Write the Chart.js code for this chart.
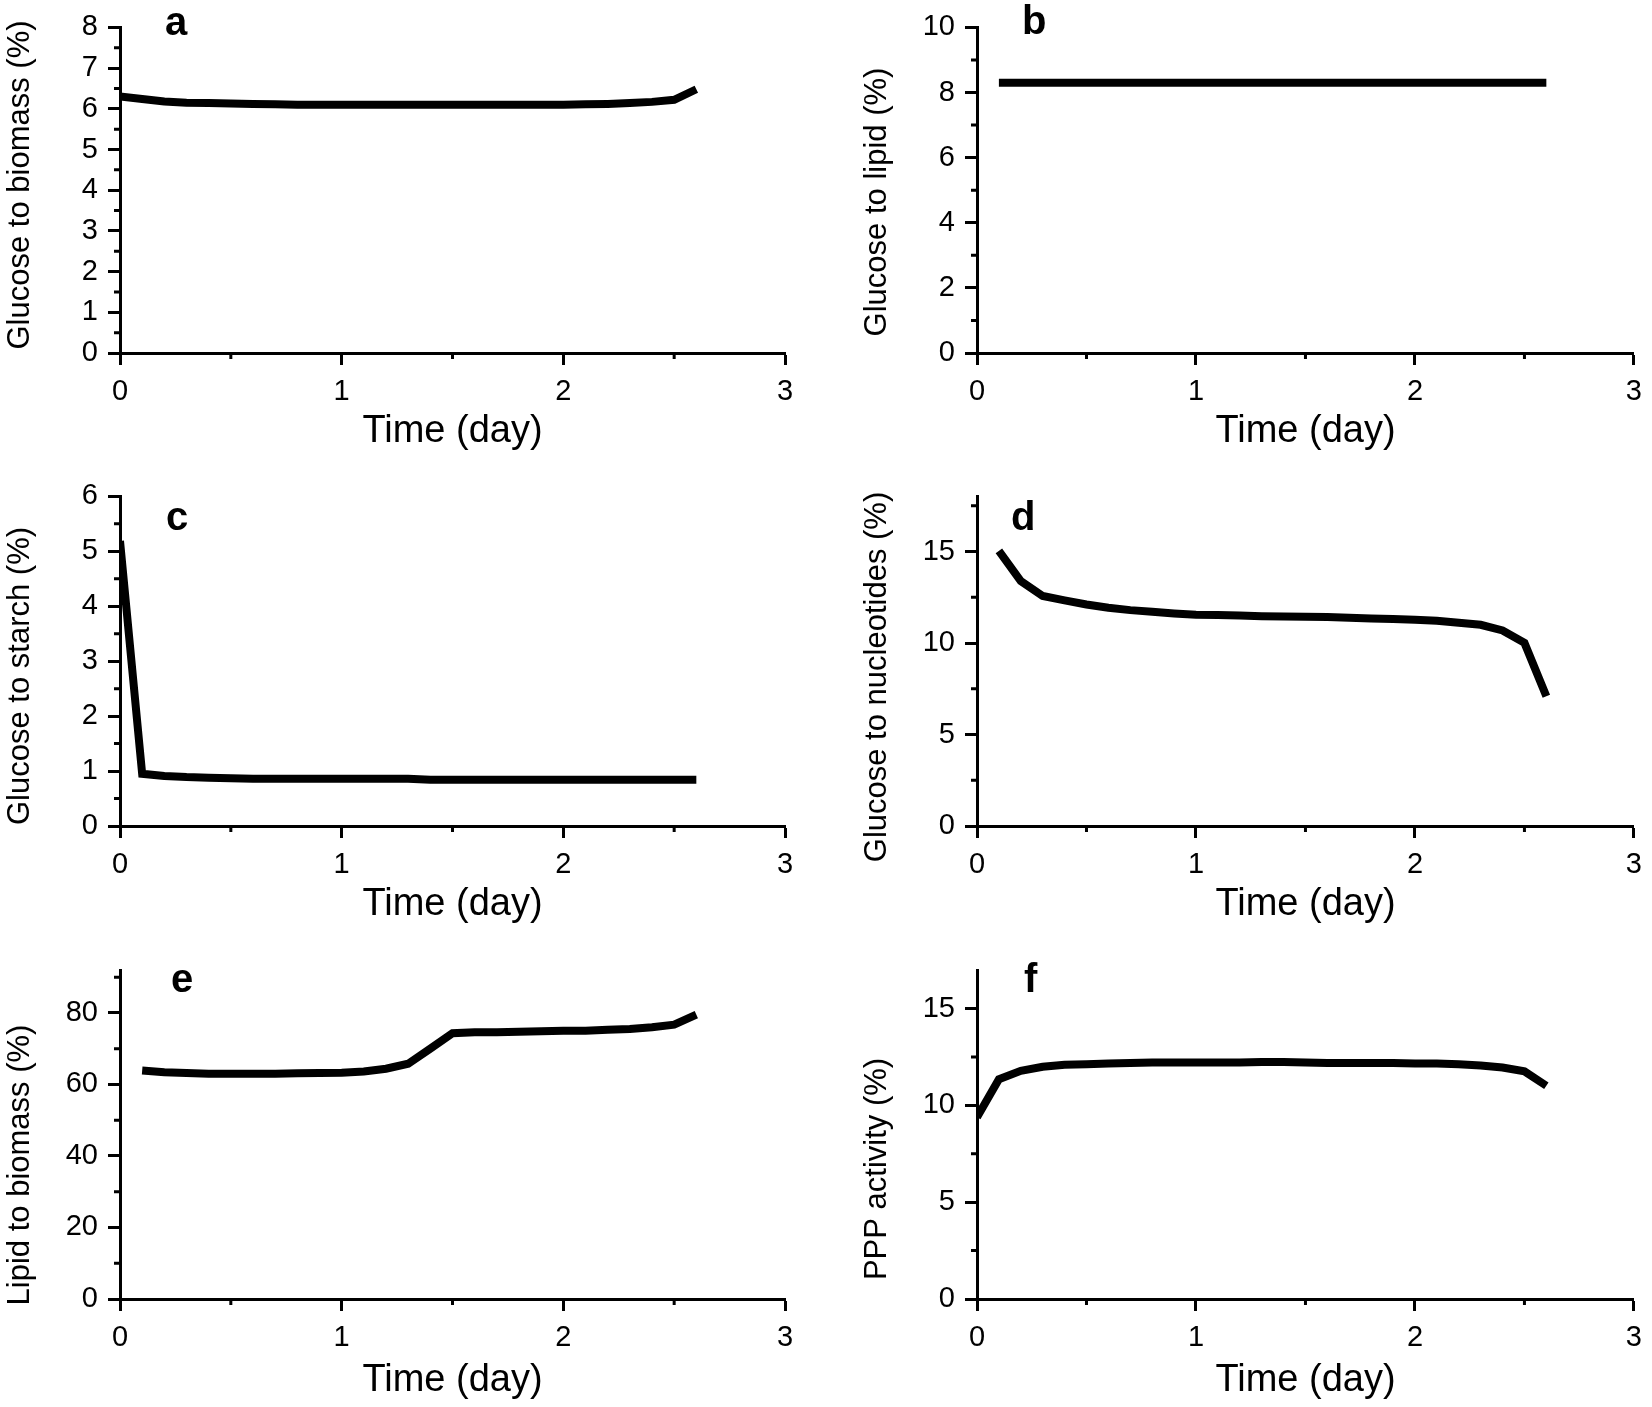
<!DOCTYPE html>
<html lang="en">
<head>
  <meta charset="UTF-8" />
  <title>Glucose allocation over time</title>
  <script src="https://cdn.jsdelivr.net/npm/chart.js"></script>
  <style>
    body {
      margin: 0;
      background: #fff;
    }
    .wrap {
      position: relative;
      width: 1652px;
      height: 1407px;
    }
    .wrap canvas {
      position: absolute;
    }
  </style>
</head>
<body>
  <div class="wrap">
    <canvas id="chartA" width="826" height="469" style="left:0;top:0"></canvas>
    <canvas id="chartB" width="826" height="469" style="left:826px;top:0"></canvas>
    <canvas id="chartC" width="826" height="469" style="left:0;top:469px"></canvas>
    <canvas id="chartD" width="826" height="469" style="left:826px;top:469px"></canvas>
    <canvas id="chartE" width="826" height="469" style="left:0;top:938px"></canvas>
    <canvas id="chartF" width="826" height="469" style="left:826px;top:938px"></canvas>
  </div>

  <script>
    // time points (day)
    const timeFrom0 = [0, 0.1, 0.2, 0.3, 0.4, 0.5, 0.6, 0.7, 0.8, 0.9, 1.0, 1.1, 1.2, 1.3,
      1.4, 1.5, 1.6, 1.7, 1.8, 1.9, 2.0, 2.1, 2.2, 2.3, 2.4, 2.5, 2.6];
    const timeFrom01 = [0.1, 0.2, 0.3, 0.4, 0.5, 0.6, 0.7, 0.8, 0.9, 1.0, 1.1, 1.2, 1.3,
      1.4, 1.5, 1.6, 1.7, 1.8, 1.9, 2.0, 2.1, 2.2, 2.3, 2.4, 2.5, 2.6];

    // series (%)
    const glucoseToBiomass = [6.30, 6.24, 6.18, 6.15, 6.14, 6.13, 6.12, 6.11, 6.10, 6.10, 6.10, 6.10, 6.10, 6.10,
      6.10, 6.10, 6.10, 6.10, 6.10, 6.10, 6.10, 6.11, 6.12, 6.14, 6.17, 6.22, 6.48];
    const glucoseToLipid = [8.3, 8.3, 8.3, 8.3, 8.3, 8.3, 8.3, 8.3, 8.3, 8.3, 8.3, 8.3, 8.3,
      8.3, 8.3, 8.3, 8.3, 8.3, 8.3, 8.3, 8.3, 8.3, 8.3, 8.3, 8.3, 8.3];
    const glucoseToStarch = [5.19, 0.95, 0.91, 0.89, 0.88, 0.87, 0.86, 0.86, 0.86, 0.86, 0.86, 0.86, 0.86, 0.86,
      0.84, 0.84, 0.84, 0.84, 0.84, 0.84, 0.84, 0.84, 0.84, 0.84, 0.84, 0.84, 0.84];
    const glucoseToNucleotides = [15.04, 13.39, 12.57, 12.33, 12.11, 11.93, 11.80, 11.71, 11.62, 11.55, 11.53, 11.51, 11.47,
      11.45, 11.44, 11.42, 11.38, 11.34, 11.31, 11.27, 11.22, 11.11, 11.00, 10.69, 10.01, 7.09];
    const lipidToBiomass = [63.9, 63.4, 63.2, 63.0, 63.0, 63.0, 63.0, 63.1, 63.2, 63.3, 63.6, 64.4, 65.8,
      70.0, 74.3, 74.6, 74.6, 74.7, 74.9, 75.0, 75.0, 75.3, 75.5, 76.0, 76.7, 79.5];
    const pppActivity = [9.39, 11.36, 11.79, 12.00, 12.10, 12.13, 12.17, 12.20, 12.22, 12.22, 12.22, 12.22, 12.22, 12.25,
      12.25, 12.22, 12.20, 12.20, 12.20, 12.20, 12.17, 12.17, 12.13, 12.06, 11.96, 11.76, 11.02];

    // axis ticks
    const xTicks = [0, 1, 2, 3];
    const yTicksA = [0, 1, 2, 3, 4, 5, 6, 7, 8];
    const yTicksB = [0, 2, 4, 6, 8, 10];
    const yTicksC = [0, 1, 2, 3, 4, 5, 6];
    const yTicksD = [0, 5, 10, 15];
    const yTicksE = [0, 20, 40, 60, 80];
    const yTicksF = [0, 5, 10, 15];

    const FONT = '"Liberation Sans", Arial, sans-serif';
    const W = 826, H = 469;

    const panels = [
      { id: 'chartA', letter: 'a', title: 'Glucose to biomass (%)', t: timeFrom0, v: glucoseToBiomass, ticks: yTicksA, yMax: 8,
        left: 120, right: 785, top: 23.5, bottom: 353, xTitlePad: 18, letterAt: [165, 35], yTitleAt: [20.5, 185] },
      { id: 'chartB', letter: 'b', title: 'Glucose to lipid (%)', t: timeFrom01, v: glucoseToLipid, ticks: yTicksB, yMax: 10,
        left: 151, right: 816, top: 23.3, bottom: 353, xTitlePad: 18, letterAt: [196, 34], yTitleAt: [52, 202] },
      { id: 'chartC', letter: 'c', title: 'Glucose to starch (%)', t: timeFrom0, v: glucoseToStarch, ticks: yTicksC, yMax: 6,
        left: 120, right: 785, top: 27, bottom: 357, xTitlePad: 14, letterAt: [166, 61], yTitleAt: [20.5, 207] },
      { id: 'chartD', letter: 'd', title: 'Glucose to nucleotides (%)', t: timeFrom01, v: glucoseToNucleotides, ticks: yTicksD, yMax: 18,
        left: 151, right: 816, top: 27.7, bottom: 357, xTitlePad: 14, letterAt: [185, 61], yTitleAt: [52, 208] },
      { id: 'chartE', letter: 'e', title: 'Lipid to biomass (%)', t: timeFrom01, v: lipidToBiomass, ticks: yTicksE, yMax: 92,
        left: 120, right: 785, top: 32, bottom: 361, xTitlePad: 7, letterAt: [171, 54], yTitleAt: [20.5, 227] },
      { id: 'chartF', letter: 'f', title: 'PPP activity (%)', t: timeFrom0, v: pppActivity, ticks: yTicksF, yMax: 17,
        left: 151, right: 816, top: 32, bottom: 361, xTitlePad: 7, letterAt: [198, 54], yTitleAt: [52, 231] }
    ];

    // minor ticks, y title and panel letter
    const panelDecor = {
      id: 'panelDecor',
      afterDraw(chart, args, opts) {
        const { ctx, scales: { x, y } } = chart;
        ctx.save();
        ctx.strokeStyle = '#000';
        ctx.lineWidth = 3;
        ctx.beginPath();
        for (let v = 0.5; v < 3; v += 1) {
          const px = x.getPixelForValue(v);
          ctx.moveTo(px, x.top);
          ctx.lineTo(px, x.top + 6);
        }
        const step = opts.ticks[1] - opts.ticks[0];
        for (let v = step / 2; v <= opts.yMax; v += step) {
          const py = y.getPixelForValue(v);
          ctx.moveTo(y.right, py);
          ctx.lineTo(y.right - 6, py);
        }
        ctx.stroke();

        ctx.fillStyle = '#000';
        ctx.font = 'bold 40px ' + FONT;
        ctx.textAlign = 'left';
        ctx.textBaseline = 'alphabetic';
        ctx.fillText(opts.letter, opts.letterAt[0], opts.letterAt[1]);

        ctx.translate(opts.yTitleAt[0], opts.yTitleAt[1]);
        ctx.rotate(-Math.PI / 2);
        ctx.font = '31px ' + FONT;
        ctx.textAlign = 'center';
        ctx.fillText(opts.title, 0, 0.26 * 31);
        ctx.restore();
      }
    };

    function createPanel(p) {
      const ctx = document.getElementById(p.id).getContext('2d');
      return new Chart(ctx, {
        type: 'line',
        data: {
          datasets: [{
            data: p.t.map((t, i) => ({ x: t, y: p.v[i] })),
            borderColor: '#000',
            borderWidth: 8,
            pointRadius: 0,
            tension: 0,
            fill: false
          }]
        },
        options: {
          responsive: false,
          animation: false,
          layout: { padding: { left: 0, top: p.top, right: W - p.right, bottom: 0 } },
          plugins: {
            legend: { display: false },
            tooltip: { enabled: false },
            panelDecor: p
          },
          scales: {
            x: {
              type: 'linear',
              min: 0,
              max: 3,
              afterBuildTicks: s => { s.ticks = xTicks.map(v => ({ value: v })); },
              afterFit: s => { s.height = H - p.bottom; },
              grid: { drawOnChartArea: false, tickLength: 12, tickWidth: 3, tickColor: '#000' },
              border: { display: true, color: '#000', width: 3 },
              ticks: { color: '#000', padding: 10, maxRotation: 0, font: { family: FONT, size: 29 } },
              title: {
                display: true,
                text: 'Time (day)',
                color: '#000',
                font: { family: FONT, size: 38, lineHeight: 1 },
                padding: { top: 0, bottom: p.xTitlePad }
              }
            },
            y: {
              type: 'linear',
              min: 0,
              max: p.yMax,
              afterBuildTicks: s => { s.ticks = p.ticks.map(v => ({ value: v })); },
              afterFit: s => { s.width = p.left; },
              grid: { drawOnChartArea: false, tickLength: 12, tickWidth: 3, tickColor: '#000' },
              border: { display: true, color: '#000', width: 3 },
              ticks: { color: '#000', padding: 10, font: { family: FONT, size: 29 } }
            }
          }
        },
        plugins: [panelDecor]
      });
    }

    window.onload = () => {
      panels.forEach(createPanel);
    };
  </script>
</body>
</html>
